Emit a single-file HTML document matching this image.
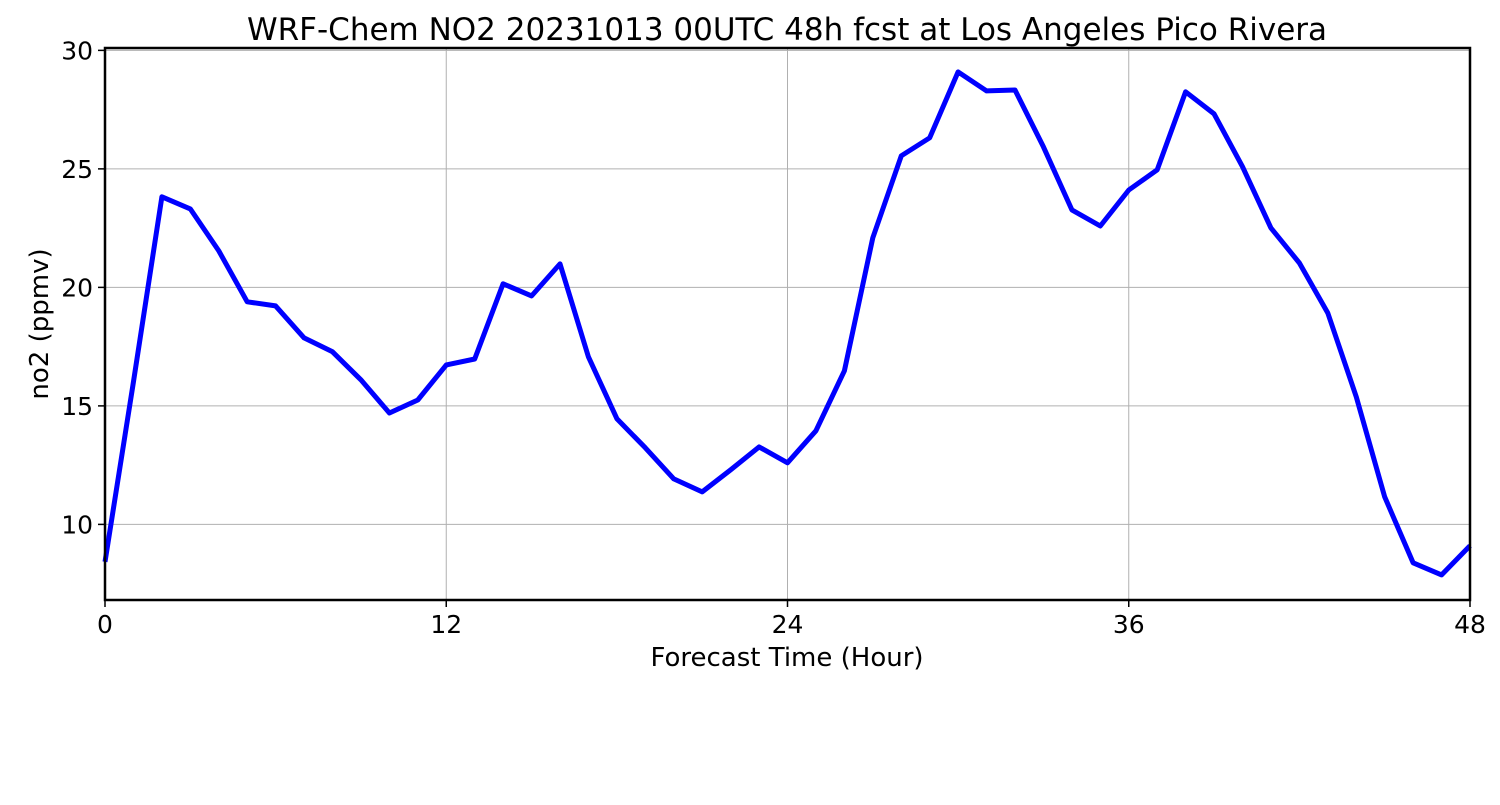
<!DOCTYPE html>
<html><head><meta charset="utf-8"><style>
body{margin:0;background:#fff;}
svg text{font-family:"DejaVu Sans","Liberation Sans",sans-serif;fill:#000;}
</style></head><body>
<svg id="chart" width="1500" height="800" viewBox="0 0 1500 800" xmlns="http://www.w3.org/2000/svg">
<rect width="1500" height="800" fill="#fff"/>
<text x="787" y="40" font-size="31" text-anchor="middle">WRF-Chem NO2  20231013 00UTC 48h fcst at Los Angeles Pico Rivera</text>
<g id="grid"></g>
<g id="ticks"></g>
<path id="line" fill="none" stroke="#0000ff" stroke-width="5" stroke-linejoin="round"/>
<rect x="105" y="48" width="1365" height="552" fill="none" stroke="#000" stroke-width="2.5"/>
<text x="787" y="666" font-size="26" text-anchor="middle">Forecast Time (Hour)</text>
<text transform="translate(48,324) rotate(-90)" font-size="26" text-anchor="middle">no2  (ppmv)</text>
</svg>
<script>
const hours = [0,1,2,3,4,5,6,7,8,9,10,11,12,13,14,15,16,17,18,19,20,21,22,23,24,25,26,27,28,29,30,31,32,33,34,35,36,37,38,39,40,41,42,43,44,45,46,47,48];
const no2Values = [8.42,16.0,23.82,23.31,21.54,19.39,19.22,17.87,17.28,16.1,14.7,15.25,16.73,16.98,20.15,19.64,20.99,17.07,14.46,13.23,11.92,11.37,12.3,13.27,12.6,13.95,16.48,22.09,25.55,26.31,29.09,28.29,28.33,25.93,23.27,22.59,24.11,24.96,28.25,27.32,25.09,22.51,21.03,18.92,15.38,11.16,8.38,7.87,9.1];
const xTicks = [0,12,24,36,48];
const yTicks = [10,15,20,25,30];
const X0=105,X1=1470,Y0=600,Y1=48,XMIN=0,XMAX=48,YMIN=6.81,YMAX=30.1;
const xs=v=>X0+(v-XMIN)/(XMAX-XMIN)*(X1-X0);
const ys=v=>Y0-(v-YMIN)/(YMAX-YMIN)*(Y0-Y1);
const NS="http://www.w3.org/2000/svg";
const grid=document.getElementById('grid'),ticks=document.getElementById('ticks');
function mk(tag,attrs,parent){const e=document.createElementNS(NS,tag);for(const k in attrs)e.setAttribute(k,attrs[k]);parent.appendChild(e);return e;}
xTicks.forEach(t=>{
  const x=xs(t);
  const g=mk('line',{x1:x,x2:x,y1:Y1,y2:Y0,stroke:'#b0b0b0','stroke-width':1},grid);
  
  
  const tk=mk('line',{x1:x,x2:x,y1:Y0,y2:Y0+7,stroke:'#000','stroke-width':1.5},ticks);
  
  
  const lb=mk('text',{x:x,y:Y0+33,'font-size':25,'text-anchor':'middle'},ticks);
  lb.textContent=t;
  
  
});
yTicks.forEach(t=>{
  const y=ys(t);
  const g=mk('line',{x1:X0,x2:X1,y1:y,y2:y,stroke:'#b0b0b0','stroke-width':1},grid);
  
  
  const tk=mk('line',{x1:X0-7,x2:X0,y1:y,y2:y,stroke:'#000','stroke-width':1.5},ticks);
  
  
  const lb=mk('text',{x:X0-12,y:y+9,'font-size':25,'text-anchor':'end'},ticks);
  lb.textContent=t;
  
  
});
document.getElementById('line').setAttribute('d',hours.map((h,i)=>(i?'L':'M')+xs(h).toFixed(1)+','+ys(no2Values[i]).toFixed(1)).join(''));
</script>
</body></html>
